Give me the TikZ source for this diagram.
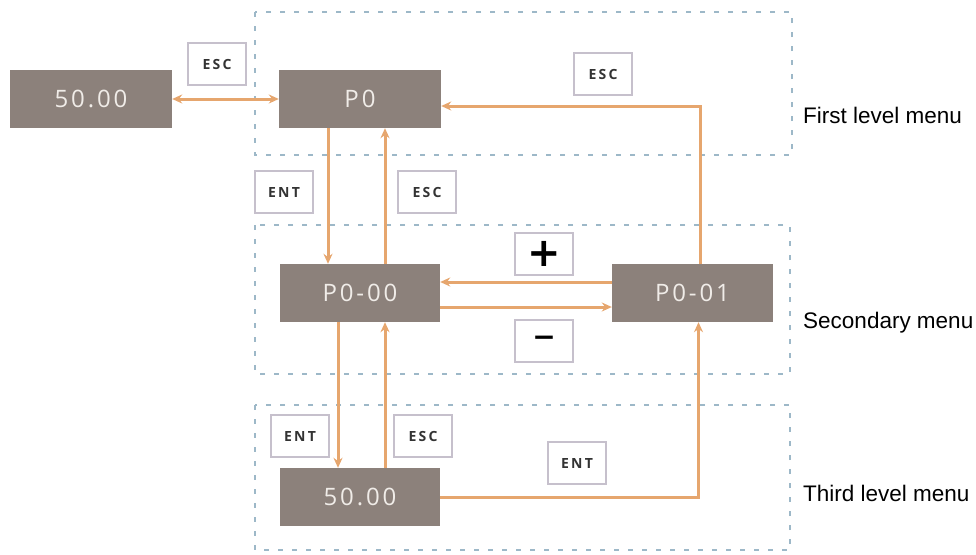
\documentclass[tikz,border=0pt]{standalone}
\usepackage{fontspec}
\setmainfont{Liberation Sans}
\newfontfamily\boxfont[LetterSpace=12]{Open Sans}
\newfontfamily\keyfont[LetterSpace=16]{Open Sans}
\newfontfamily\signfont{DejaVu Sans}
\usetikzlibrary{arrows.meta}
\definecolor{boxgrey}{HTML}{8C817B}
\definecolor{boxtext}{HTML}{F0ECE8}
\definecolor{arrorange}{HTML}{E6A66E}
\definecolor{keyborder}{HTML}{C6C0CC}
\definecolor{keytext}{HTML}{333333}
\definecolor{regionblue}{HTML}{9DB8C8}
\tikzset{
  dispbox/.style={fill=boxgrey, draw=none, minimum height=58pt, inner sep=0pt,
    text=boxtext, font=\boxfont\fontsize{24}{24}\selectfont},
  keybox/.style={fill=white, draw=keyborder, line width=2.2pt, minimum width=58pt,
    minimum height=42pt, inner sep=0pt, text=keytext, font=\keyfont\bfseries\fontsize{14}{14}\selectfont},
  signbox/.style={keybox, text=black, font=\signfont\bfseries\fontsize{40}{40}\selectfont},
  arr/.style={draw=arrorange, line width=3pt, -{Stealth[length=10pt,width=9pt]}},
  region/.style={draw=regionblue, line width=2.2pt, dash pattern=on 5pt off 9pt},
  levellabel/.style={anchor=base west, inner sep=0pt, text=black, font=\fontsize{22.5}{22.5}\selectfont}
}
\begin{document}
\begin{tikzpicture}[x=1pt,y=-1pt]
\useasboundingbox (0,0) rectangle (976,554);
% regions
\draw[region] (255,12) rectangle (792,155);
\draw[region] (255,225) rectangle (790,374);
\draw[region] (255,405) rectangle (790,550);
% display boxes
\node[dispbox, minimum width=162pt] (a) at (91,99) {50.00};
\node[dispbox, minimum width=162pt] (p0) at (360,99) {P0};
\node[dispbox, minimum width=160pt] (p000) at (360,293) {P0-00};
\node[dispbox, minimum width=161pt] (p001) at (692.5,293) {P0-01};
\node[dispbox, minimum width=160pt] (b) at (360,497) {50.00};
% connectors
\draw[arr, {Stealth[length=10pt,width=9pt]}-{Stealth[length=10pt,width=9pt]}] (a) -- (p0);
\draw[arr] ([xshift=8pt]p001.north) |- ([yshift=-7pt]p0.east);
\draw[arr] ([xshift=-32pt]p0.south) -- ([xshift=-32pt]p000.north);
\draw[arr] ([xshift=25pt]p000.north) -- ([xshift=25pt]p0.south);
\draw[arr] ([yshift=11pt]p001.west) -- ([yshift=11pt]p000.east);
\draw[arr] ([yshift=-14pt]p000.east) -- ([yshift=-14pt]p001.west);
\draw[arr] ([xshift=-22pt]p000.south) -- ([xshift=-22pt]b.north);
\draw[arr] ([xshift=25pt]b.north) -- ([xshift=25pt]p000.south);
\draw[arr] (b.east) -| ([xshift=6pt]p001.south);
% key labels
\node[keybox] (k1) at (217,64) {ESC};
\node[keybox] (k2) at (603,74) {ESC};
\node[keybox] (k3) at (284,192) {ENT};
\node[keybox] (k4) at (427,192) {ESC};
\node[signbox] (kplus) at (544,254) {+};
\node[signbox, font=\signfont\bfseries\fontsize{28}{28}\selectfont] (kminus) at (544,341) {−};
\node[keybox] (k5) at (300,436) {ENT};
\node[keybox] (k6) at (423,436) {ESC};
\node[keybox] (k7) at (577,463) {ENT};
% level labels
\node[levellabel] (l1) at (803,123) {First level menu};
\node[levellabel] (l2) at (803,328) {Secondary menu};
\node[levellabel] (l3) at (803,501) {Third level menu};
\end{tikzpicture}
\end{document}
